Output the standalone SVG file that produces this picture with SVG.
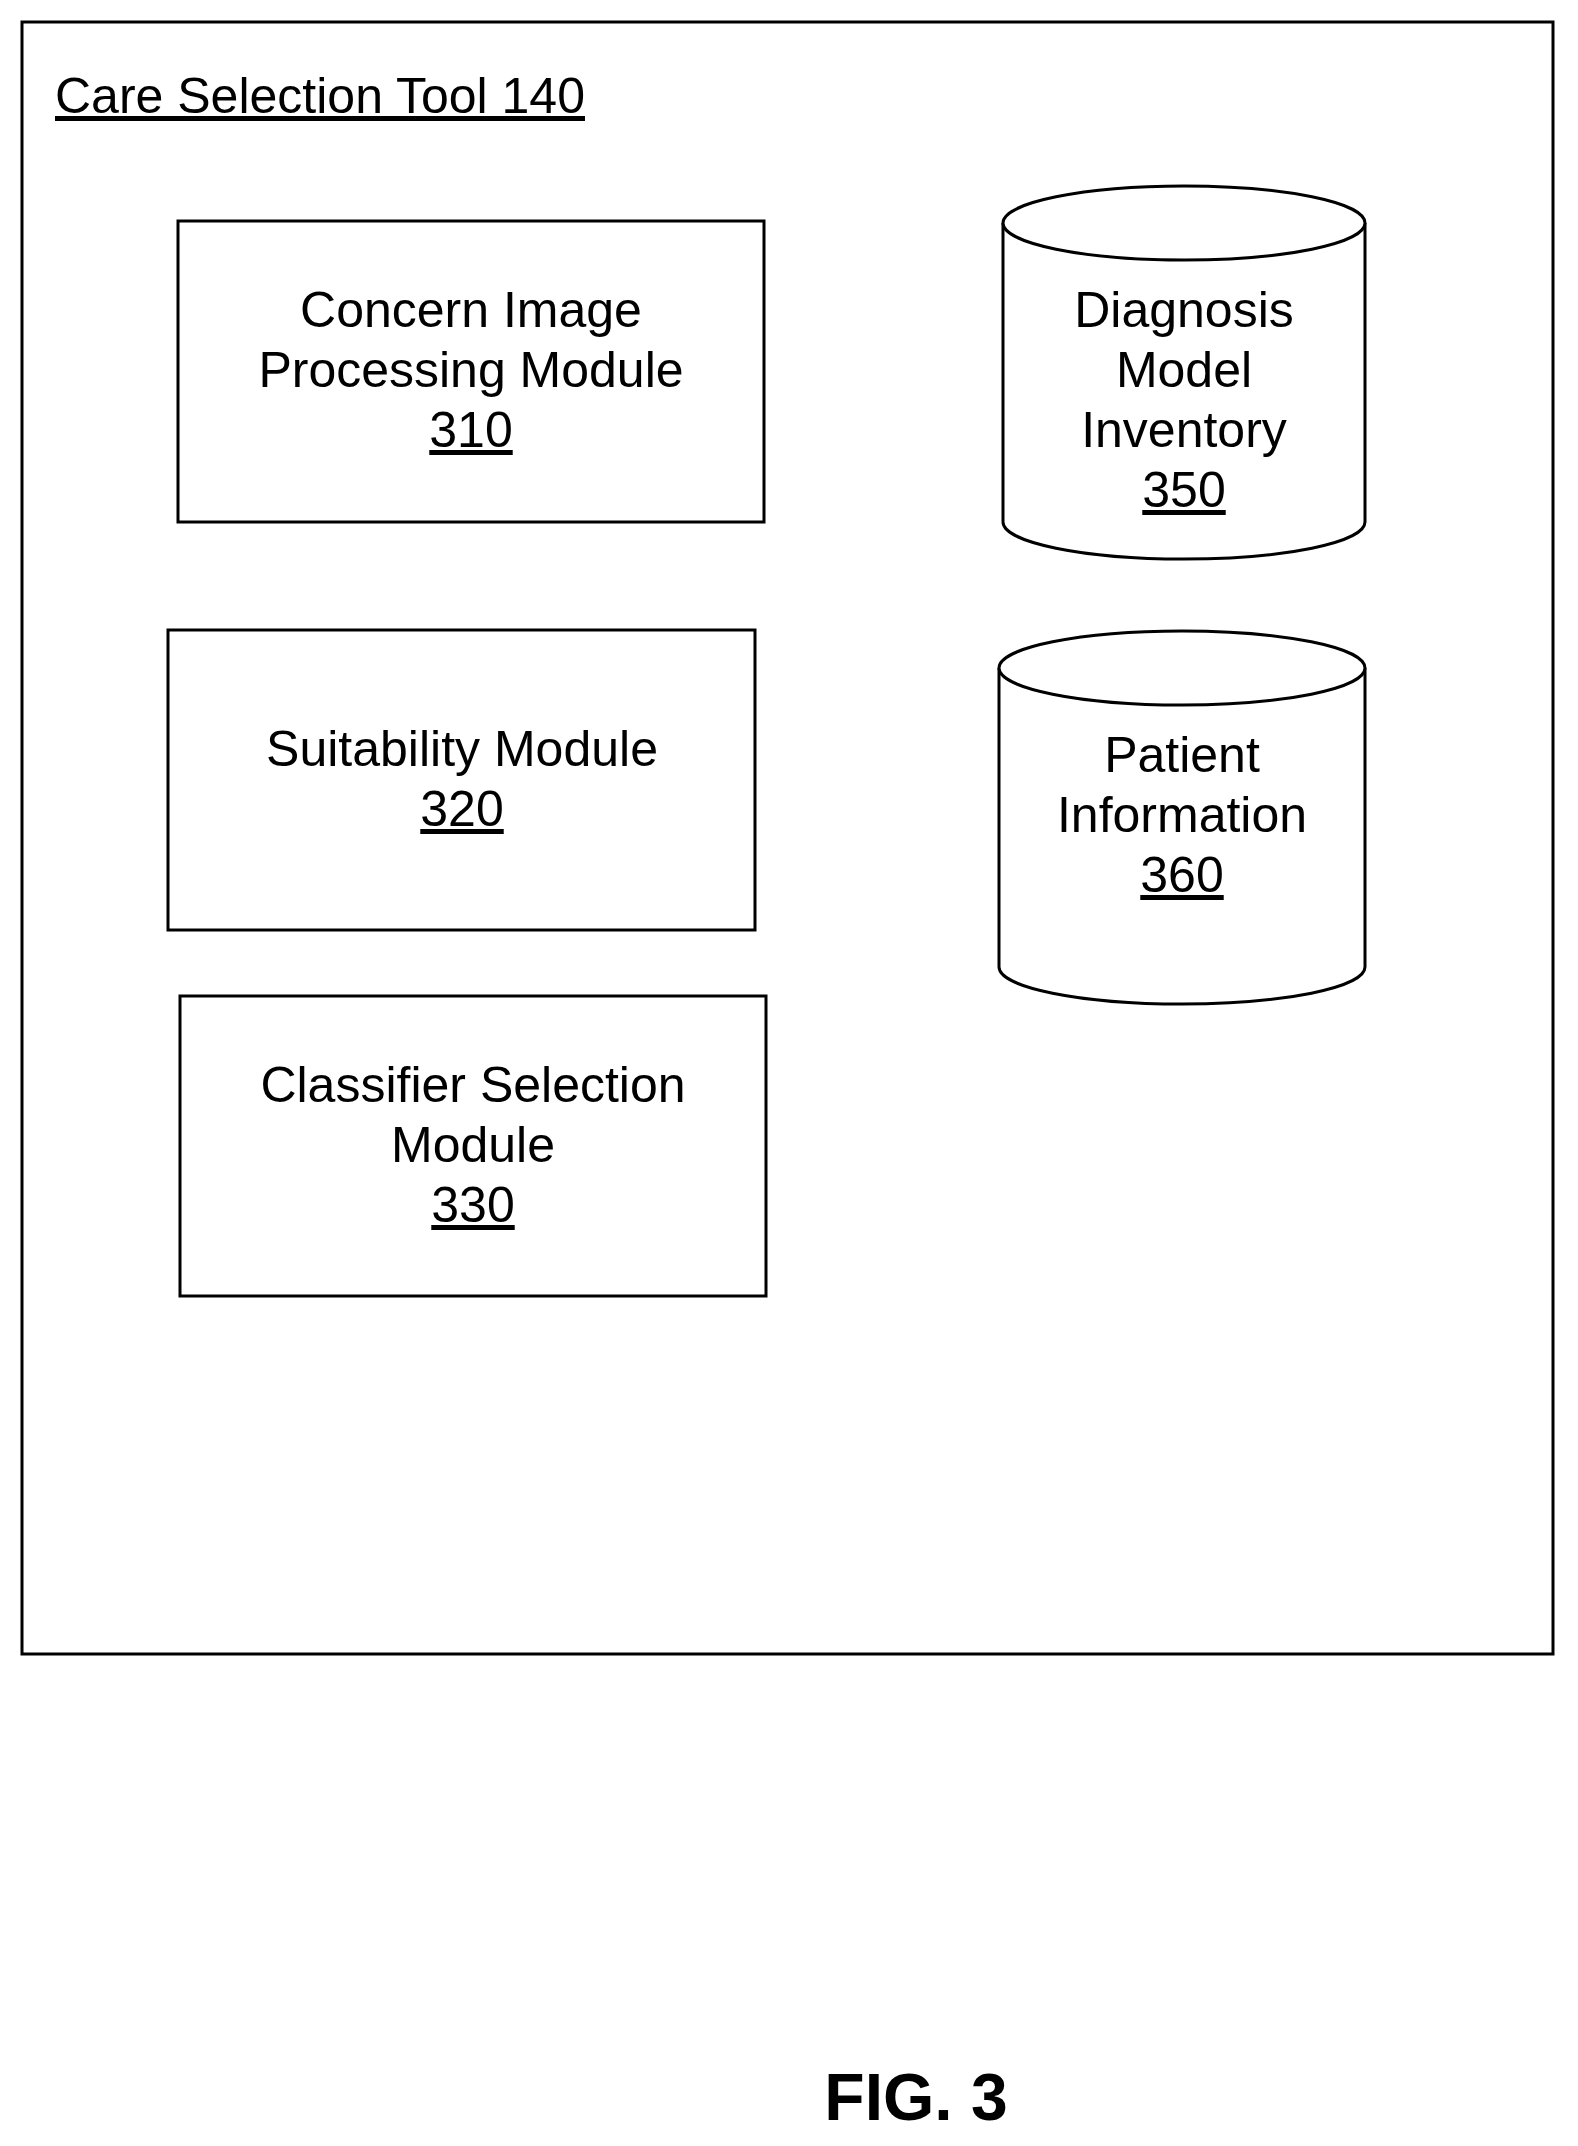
<svg xmlns="http://www.w3.org/2000/svg" width="1578" height="2146" viewBox="0 0 1578 2146">
<style>
.b{fill:#fff;stroke:#000;stroke-width:3}
.t{font-family:"Liberation Sans",Arial,sans-serif;font-size:50px;text-anchor:middle;fill:#000}
.u{text-decoration:underline}
</style>
<rect width="1578" height="2146" fill="#fff"/>
<g id="tool">
<rect class="b" x="22" y="22" width="1531" height="1632"/>
<text class="t u" x="55" y="113" style="text-anchor:start">Care Selection Tool 140</text>
</g>
<g id="n310">
<rect class="b" x="178" y="221" width="586" height="301"/>
<text class="t" x="471" y="327">Concern Image</text>
<text class="t" x="471" y="387">Processing Module</text>
<text class="t u" x="471" y="447">310</text>
</g>
<g id="n320">
<rect class="b" x="168" y="630" width="587" height="300"/>
<text class="t" x="462" y="766">Suitability Module</text>
<text class="t u" x="462" y="826">320</text>
</g>
<g id="n330">
<rect class="b" x="180" y="996" width="586" height="300"/>
<text class="t" x="473" y="1102">Classifier Selection</text>
<text class="t" x="473" y="1162">Module</text>
<text class="t u" x="473" y="1222">330</text>
</g>
<g id="n350">
<path class="b" d="M1003 223 A181 37 0 0 1 1365 223 V522 A181 37 0 0 1 1003 522 Z"/>
<path class="b" fill="none" d="M1003 223 A181 37 0 0 0 1365 223"/>
<text class="t" x="1184" y="327">Diagnosis</text>
<text class="t" x="1184" y="387">Model</text>
<text class="t" x="1184" y="447">Inventory</text>
<text class="t u" x="1184" y="507">350</text>
</g>
<g id="n360">
<path class="b" d="M999 668 A183 37 0 0 1 1365 668 V967 A183 37 0 0 1 999 967 Z"/>
<path class="b" fill="none" d="M999 668 A183 37 0 0 0 1365 668"/>
<text class="t" x="1182" y="772">Patient</text>
<text class="t" x="1182" y="832">Information</text>
<text class="t u" x="1182" y="892">360</text>
</g>
<g id="connectors"></g>
<text x="916" y="2120" style="font-family:'Liberation Sans',Arial,sans-serif;font-size:66px;font-weight:bold;text-anchor:middle">FIG. 3</text>
</svg>
